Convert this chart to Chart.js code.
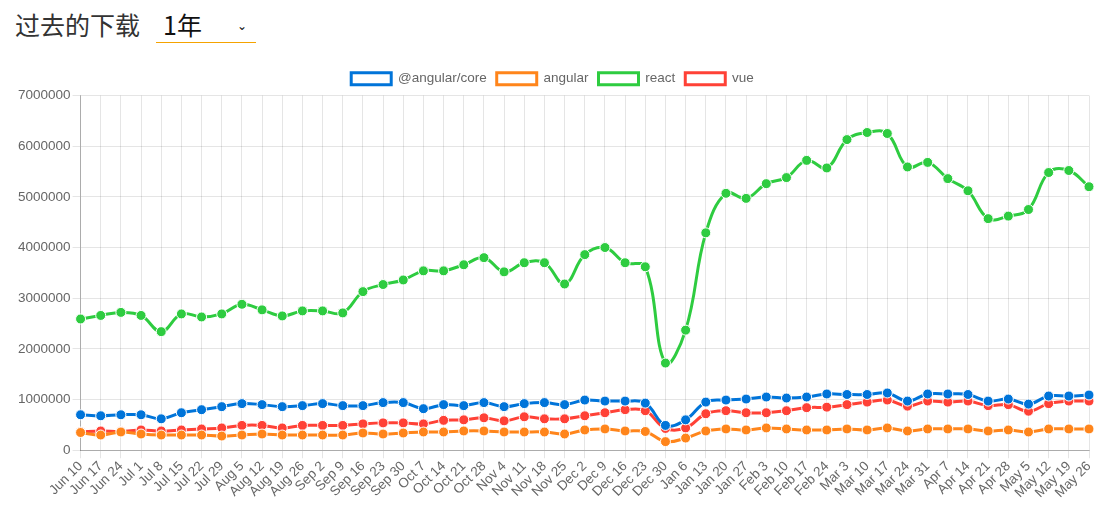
<!DOCTYPE html>
<html>
<head>
<meta charset="utf-8">
<script src="https://cdn.jsdelivr.net/npm/chart.js@4"></script>
<style>
  body { margin: 0; background: #fff; width: 1114px; height: 512px; overflow: hidden; }
  .title { position: absolute; left: 15px; top: 6px; font-family: "Noto Sans CJK SC", sans-serif; font-size: 25px; color: #333; }
  .select { position: absolute; left: 156px; top: 6px; width: 100px; height: 36px; border-bottom: 1px solid #f5a300;
            font-family: "Noto Sans CJK SC", sans-serif; font-size: 25px; color: #111; }
  .select span.v { position: absolute; left: 7px; top: 0; }
  .select span.c { position: absolute; left: 81px; top: 13px; font-size: 12px; font-family: "DejaVu Sans", sans-serif; }
  .wrap { position: absolute; left: 0; top: 62px; width: 1114px; height: 450px; }
</style>
</head>
<body>
<div class="title">过去的下载</div>
<div class="select"><span class="v">1年</span><span class="c">&#8964;</span></div>
<div class="wrap"><canvas id="downloadsChart"></canvas></div>
<script>
        // weekly labels
        const weeks = ['Jun 10', 'Jun 17', 'Jun 24', 'Jul 1', 'Jul 8', 'Jul 15', 'Jul 22', 'Jul 29',
            'Aug 5', 'Aug 12', 'Aug 19', 'Aug 26', 'Sep 2', 'Sep 9', 'Sep 16', 'Sep 23', 'Sep 30',
            'Oct 7', 'Oct 14', 'Oct 21', 'Oct 28', 'Nov 4', 'Nov 11', 'Nov 18', 'Nov 25',
            'Dec 2', 'Dec 9', 'Dec 16', 'Dec 23', 'Dec 30', 'Jan 6', 'Jan 13', 'Jan 20', 'Jan 27',
            'Feb 3', 'Feb 10', 'Feb 17', 'Feb 24', 'Mar 3', 'Mar 10', 'Mar 17', 'Mar 24', 'Mar 31',
            'Apr 7', 'Apr 14', 'Apr 21', 'Apr 28', 'May 5', 'May 12', 'May 19', 'May 26'];

        const angularCore = [700000, 680000, 700000, 700000, 620000, 740000, 800000, 860000, 920000, 900000,
            860000, 880000, 920000, 880000, 880000, 940000, 940000, 820000, 900000, 880000,
            940000, 860000, 920000, 940000, 900000, 990000, 970000, 970000, 930000, 490000,
            600000, 950000, 990000, 1010000, 1050000, 1030000, 1050000, 1110000, 1100000, 1100000,
            1130000, 970000, 1110000, 1110000, 1100000, 970000, 1010000, 910000, 1070000, 1070000, 1090000];

        const angular = [350000, 300000, 360000, 320000, 300000, 300000, 300000, 280000, 300000, 320000,
            300000, 300000, 300000, 300000, 340000, 320000, 340000, 360000, 360000, 380000,
            380000, 360000, 360000, 360000, 320000, 400000, 420000, 380000, 370000, 170000,
            240000, 380000, 420000, 400000, 440000, 420000, 400000, 400000, 420000, 400000,
            440000, 380000, 420000, 420000, 420000, 380000, 400000, 360000, 420000, 420000, 420000];

        const react = [2590000, 2660000, 2720000, 2660000, 2340000, 2690000, 2630000, 2690000, 2880000, 2770000,
            2650000, 2750000, 2750000, 2710000, 3130000, 3270000, 3360000, 3540000, 3540000, 3660000,
            3800000, 3520000, 3700000, 3700000, 3280000, 3860000, 4000000, 3700000, 3620000, 1720000,
            2370000, 4290000, 5070000, 4970000, 5260000, 5380000, 5720000, 5570000, 6130000, 6270000,
            6250000, 5590000, 5680000, 5360000, 5120000, 4570000, 4620000, 4750000, 5480000, 5520000, 5200000];

        const vue = [360000, 380000, 370000, 400000, 380000, 400000, 420000, 440000, 490000, 490000,
            440000, 490000, 490000, 490000, 520000, 540000, 540000, 520000, 590000, 600000,
            640000, 580000, 660000, 620000, 620000, 680000, 740000, 800000, 780000, 430000,
            440000, 720000, 780000, 740000, 740000, 780000, 840000, 850000, 900000, 950000,
            990000, 870000, 970000, 950000, 970000, 880000, 900000, 770000, 920000, 970000, 970000];

        const yTicks = [0, 1000000, 2000000, 3000000, 4000000, 5000000, 6000000, 7000000];

        const series = [
            { label: '@angular/core', data: angularCore, color: '#0074D9' },
            { label: 'angular', data: angular, color: '#FF851B' },
            { label: 'react', data: react, color: '#2ECC40' },
            { label: 'vue', data: vue, color: '#FF4136' }
        ];

        Chart.defaults.font.family = "'Helvetica Neue', Helvetica, Arial, 'Liberation Sans', sans-serif";
        Chart.defaults.font.size = 13.5;
        Chart.defaults.color = '#666';

        const ctx = document.getElementById('downloadsChart').getContext('2d');
        new Chart(ctx, {
            type: 'line',
            data: {
                labels: weeks,
                datasets: series.map(s => ({
                    label: s.label,
                    data: s.data,
                    borderColor: s.color,
                    backgroundColor: '#fff',
                    borderWidth: 3,
                    pointBackgroundColor: s.color,
                    pointBorderColor: '#fff',
                    pointBorderWidth: 1,
                    pointRadius: 5,
                    tension: 0.4,
                    fill: false
                }))
            },
            options: {
                responsive: true,
                maintainAspectRatio: false,
                animation: false,
                layout: { padding: { right: 25, left: 16, bottom: 11 } },
                plugins: {
                    legend: {
                        position: 'top',
                        labels: { boxWidth: 40, boxHeight: 12, padding: 10 }
                    },
                    tooltip: { enabled: false }
                },
                scales: {
                    x: {
                        grid: { color: 'rgba(0,0,0,0.1)', tickLength: 8 },
                        border: { color: 'rgba(0,0,0,0.25)' },
                        ticks: { minRotation: 45, maxRotation: 45, autoSkip: false, padding: 0 }
                    },
                    y: {
                        min: yTicks[0],
                        max: yTicks[yTicks.length - 1],
                        afterBuildTicks: axis => { axis.ticks = yTicks.map(v => ({ value: v })); },
                        grid: { color: 'rgba(0,0,0,0.1)', tickLength: 8 },
                        border: { color: 'rgba(0,0,0,0.25)' },
                        ticks: { callback: v => String(v), padding: 2 }
                    }
                }
            }
        });
</script>
</body>
</html>
